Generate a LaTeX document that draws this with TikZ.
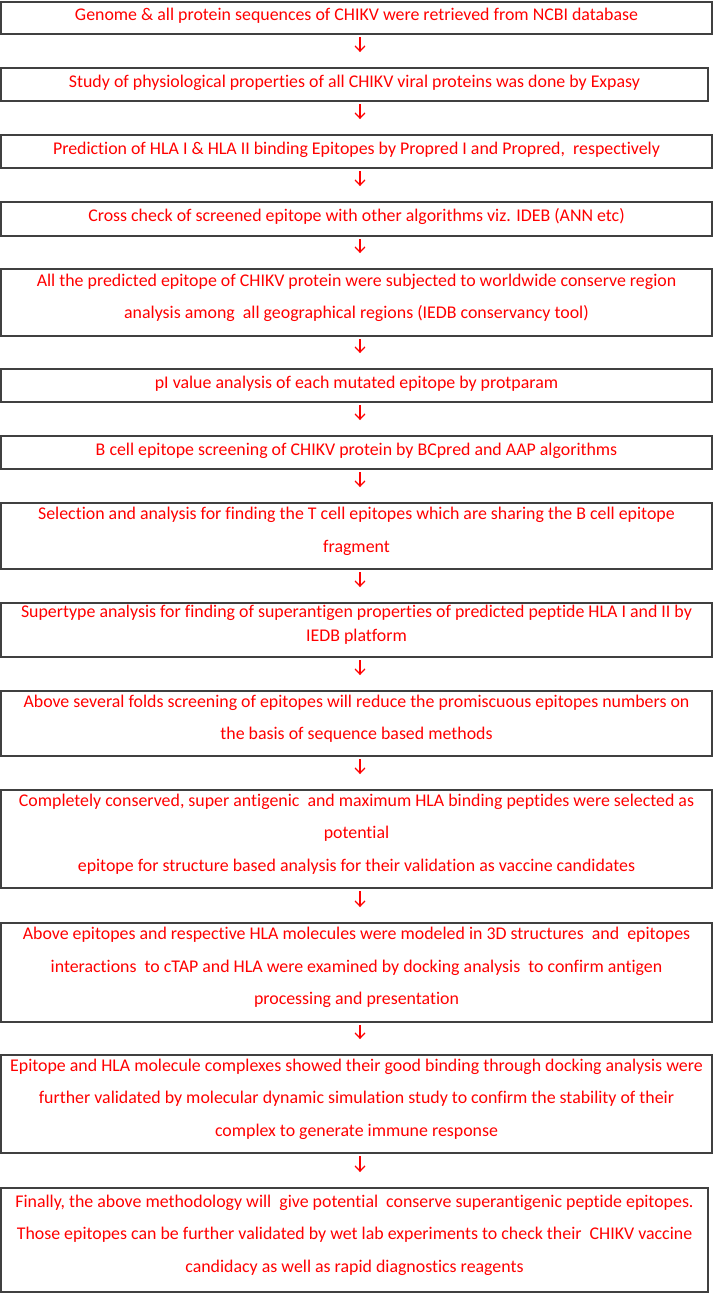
\documentclass[tikz,border=0pt]{standalone}
\usepackage{fontspec}
\setmainfont{Carlito}[Ligatures=NoCommon]
\usetikzlibrary{arrows.meta}

\begin{document}
\begin{tikzpicture}[x=0.75pt,y=-0.75pt,
        stepbox/.style={draw=black!75,line width=0.9pt,rectangle,inner sep=0pt,align=center,text=red,font=\fontsize{13.4}{24.4}\selectfont,text depth=9.5pt,minimum width=533.25pt},
        linebox/.style={stepbox,text depth=5.5pt},
        flowarrow/.style={red,line width=0.9pt,-{Straight Barb[length=4pt,width=7.5pt]},shorten <=2pt,shorten >=11.5pt}]
\useasboundingbox (0,0) rectangle (715,1293);
\coordinate (arrowx) at (360,0);
\node[linebox,minimum height=24pt] (genome) at (356.5,18) {Genome \& all protein sequences of CHIKV were retrieved from NCBI database};
\node[linebox,minimum height=24.75pt,minimum width=530.25pt] (physio) at (354.5,84.5) {Study of physiological properties of all CHIKV viral proteins was done by Expasy};
\node[linebox,minimum height=24.75pt] (hlapred) at (356.5,151.5) {Prediction of HLA I \& HLA II binding Epitopes by Propred I and Propred,\ \ respectively};
\node[linebox,minimum height=25.5pt] (crosscheck) at (356.5,219) {Cross check of screened epitope with other algorithms viz. IDEB (ANN etc)};
\node[stepbox,minimum height=50.25pt] (conserve) at (356.5,302.5) {All the predicted epitope of CHIKV protein were subjected to worldwide conserve region\\ analysis among\ \ all geographical regions (IEDB conservancy tool)};
\node[linebox,minimum height=24.75pt] (pivalue) at (356.5,385.5) {pI value analysis of each mutated epitope by protparam};
\node[linebox,minimum height=24.75pt] (bcell) at (356.5,452.5) {B cell epitope screening of CHIKV protein by BCpred and AAP algorithms};
\node[stepbox,minimum height=49.5pt] (tcell) at (356.5,536) {Selection and analysis for finding the T cell epitopes which are sharing the B cell epitope\\ fragment};
\node[stepbox,minimum height=40.5pt,font=\fontsize{13.4}{18}\selectfont] (supertype) at (356.5,630) {Supertype analysis for finding of superantigen properties of predicted peptide HLA I and II by\\ IEDB platform};
\node[stepbox,minimum height=48.75pt] (screening) at (356.5,723.5) {Above several folds screening of epitopes will reduce the promiscuous epitopes numbers on\\ the basis of sequence based methods};
\node[stepbox,minimum height=73.5pt] (selected) at (356.5,839) {Completely conserved, super antigenic\ \ and maximum HLA binding peptides were selected as\\ potential\\ epitope for structure based analysis for their validation as vaccine candidates};
\node[stepbox,minimum height=74.25pt] (docking) at (356.5,972.5) {Above epitopes and respective HLA molecules were modeled in 3D structures\ \ and\ \ epitopes\\ interactions\ \ to cTAP and HLA were examined by docking analysis\ \ to confirm antigen\\ processing and presentation};
\node[stepbox,minimum height=73.5pt] (simulation) at (356.5,1104) {Epitope and HLA molecule complexes showed their good binding through docking analysis were\\ further validated by molecular dynamic simulation study to confirm the stability of their\\ complex to generate immune response};
\node[stepbox,minimum height=78pt,minimum width=530.25pt] (finally) at (354.5,1240) {Finally, the above methodology will\ \ give potential\ \ conserve superantigenic peptide epitopes.\\ Those epitopes can be further validated by wet lab experiments to check their\ \ CHIKV vaccine\\ candidacy as well as rapid diagnostics reagents};
\draw[flowarrow] (genome.south -| arrowx) -- (physio.north -| arrowx);
\draw[flowarrow] (physio.south -| arrowx) -- (hlapred.north -| arrowx);
\draw[flowarrow] (hlapred.south -| arrowx) -- (crosscheck.north -| arrowx);
\draw[flowarrow] (crosscheck.south -| arrowx) -- (conserve.north -| arrowx);
\draw[flowarrow] (conserve.south -| arrowx) -- (pivalue.north -| arrowx);
\draw[flowarrow] (pivalue.south -| arrowx) -- (bcell.north -| arrowx);
\draw[flowarrow] (bcell.south -| arrowx) -- (tcell.north -| arrowx);
\draw[flowarrow] (tcell.south -| arrowx) -- (supertype.north -| arrowx);
\draw[flowarrow] (supertype.south -| arrowx) -- (screening.north -| arrowx);
\draw[flowarrow] (screening.south -| arrowx) -- (selected.north -| arrowx);
\draw[flowarrow] (selected.south -| arrowx) -- (docking.north -| arrowx);
\draw[flowarrow] (docking.south -| arrowx) -- (simulation.north -| arrowx);
\draw[flowarrow] (simulation.south -| arrowx) -- (finally.north -| arrowx);
\end{tikzpicture}
\end{document}
